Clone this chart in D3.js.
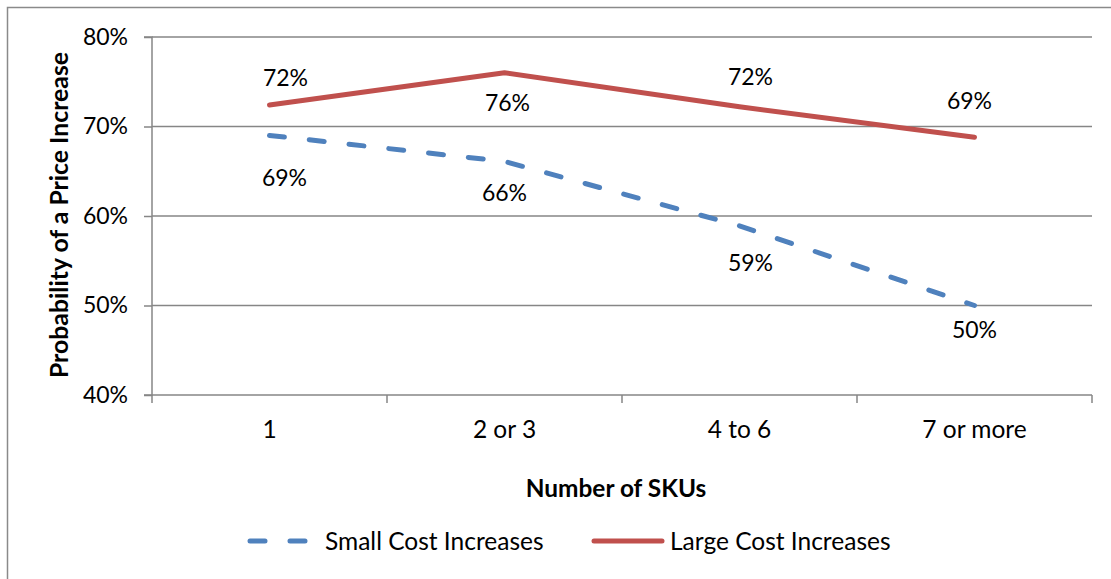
<!DOCTYPE html>
<html>
<head>
<meta charset="utf-8">
<script src="https://cdn.jsdelivr.net/npm/d3@7"></script>
<style>
  html, body { margin: 0; padding: 0; background: #fff; }
  svg { display: block; }
  text { font-family: Lato, "Open Sans", sans-serif; fill: #000; }
</style>
</head>
<body>
<svg id="chart" width="1111" height="579"></svg>
<script>
// Chart data
const categories = ["1", "2 or 3", "4 to 6", "7 or more"];
const smallCost = [69.0, 66.1, 58.9, 50.0];
const largeCost = [72.4, 76.0, 72.2, 68.8];
const yTicks = [40, 50, 60, 70, 80];
const seriesNames = ["Small Cost Increases", "Large Cost Increases"];

// Label placement relative to each point (dx, dy)
const smallLabelOffsets = [[15, 42], [0, 32], [11, 37], [0, 24]];
const largeLabelOffsets = [[16, -27], [3, 30], [11, -30], [-5, -36]];

const svg = d3.select("#chart");
const W = 1111, H = 579;
const plot = { left: 152, right: 1092, top: 37, bottom: 395 };
const gridColor = "#868686";
const blue = "#4F81BD", red = "#C0504D";
const fsText = 24.5;   // words
const fsNum = 23;      // percentages

// Outer frame
svg.append("rect")
  .attr("x", 7.5).attr("y", 7.5)
  .attr("width", W + 20).attr("height", H + 20)
  .attr("fill", "none").attr("stroke", "#8a8a8a").attr("stroke-width", 1.5);

const x = d3.scaleBand().domain(categories).range([plot.left, plot.right]).padding(0);
const cx = c => x(c) + x.bandwidth() / 2;
const y = d3.scaleLinear().domain([40, 80]).range([plot.bottom, plot.top]);
const pct = d3.format(".0%");

// Horizontal gridlines
svg.append("g").selectAll("line").data(yTicks.filter(t => t > 40)).join("line")
  .attr("x1", plot.left).attr("x2", plot.right)
  .attr("y1", d => y(d)).attr("y2", d => y(d))
  .attr("stroke", gridColor).attr("stroke-width", 1.5);

// Y axis
const yAxis = svg.append("g")
  .attr("transform", `translate(${plot.left},0)`)
  .call(d3.axisLeft(y).tickValues(yTicks).tickSize(8).tickPadding(16)
        .tickFormat(d => pct(d / 100)));
yAxis.select(".domain").attr("stroke", gridColor).attr("stroke-width", 1.5)
  .attr("d", `M-8,${plot.top}H0V${plot.bottom}H-8`);
yAxis.selectAll(".tick line").attr("stroke", gridColor).attr("stroke-width", 1.5);
yAxis.selectAll(".tick text").style("font-size", fsNum + "px").style("font-family", "Lato").attr("fill", "#000");

// X axis baseline and ticks at category boundaries
const xAxis = svg.append("g")
  .attr("transform", `translate(0,${plot.bottom})`)
  .call(d3.axisBottom(x).tickSize(0).tickPadding(26));
xAxis.select(".domain").remove();
xAxis.selectAll(".tick text").style("font-size", fsText + "px").style("font-family", "Lato").attr("fill", "#000");
svg.append("line")
  .attr("x1", plot.left).attr("x2", plot.right)
  .attr("y1", plot.bottom).attr("y2", plot.bottom)
  .attr("stroke", gridColor).attr("stroke-width", 1.5);
const edges = categories.map(c => x(c)).concat([plot.right]);
svg.append("g").selectAll("line").data(edges).join("line")
  .attr("x1", d => d).attr("x2", d => d)
  .attr("y1", plot.bottom).attr("y2", plot.bottom + 8)
  .attr("stroke", gridColor).attr("stroke-width", 1.5);

// Axis titles
svg.append("text")
  .attr("transform", `translate(59,${(52 + 378) / 2}) rotate(-90)`)
  .attr("text-anchor", "middle").attr("dy", "0.35em")
  .style("font-size", "24.8px").style("font-weight", "bold")
  .text("Probability of a Price Increase");
svg.append("text")
  .attr("x", 616).attr("y", 488)
  .attr("text-anchor", "middle").attr("dy", "0.35em")
  .style("font-size", "24.4px").style("font-weight", "bold")
  .text("Number of SKUs");

// Series lines
const line = d3.line().x(d => cx(d.c)).y(d => y(d.v));
const smallPts = categories.map((c, i) => ({ c, v: smallCost[i] }));
const largePts = categories.map((c, i) => ({ c, v: largeCost[i] }));

svg.append("path").datum(smallPts).attr("d", line)
  .attr("fill", "none").attr("stroke", blue).attr("stroke-width", 5)
  .attr("stroke-linecap", "round").attr("stroke-dasharray", "15 25");
svg.append("path").datum(largePts).attr("d", line)
  .attr("fill", "none").attr("stroke", red).attr("stroke-width", 5)
  .attr("stroke-linecap", "round").attr("stroke-linejoin", "round");

// Data labels
function labels(pts, offsets) {
  svg.append("g").selectAll("text").data(pts).join("text")
    .attr("x", (d, i) => cx(d.c) + offsets[i][0])
    .attr("y", (d, i) => y(d.v) + offsets[i][1])
    .attr("text-anchor", "middle").attr("dy", "0.35em")
    .style("font-size", fsNum + "px")
    .text(d => pct(d.v / 100));
}
labels(smallPts, smallLabelOffsets);
labels(largePts, largeLabelOffsets);

// Legend
const legY = 541;
const leg = svg.append("g");
leg.append("line").attr("x1", 250).attr("x2", 310).attr("y1", legY).attr("y2", legY)
  .attr("stroke", blue).attr("stroke-width", 5).attr("stroke-linecap", "round")
  .attr("stroke-dasharray", "15 25");
leg.append("text").attr("x", 325).attr("y", legY).attr("dy", "0.35em")
  .style("font-size", fsText + "px").text(seriesNames[0]);
leg.append("line").attr("x1", 594).attr("x2", 662).attr("y1", legY).attr("y2", legY)
  .attr("stroke", red).attr("stroke-width", 5).attr("stroke-linecap", "round");
leg.append("text").attr("x", 670).attr("y", legY).attr("dy", "0.35em")
  .style("font-size", fsText + "px").text(seriesNames[1]);
</script>
</body>
</html>
